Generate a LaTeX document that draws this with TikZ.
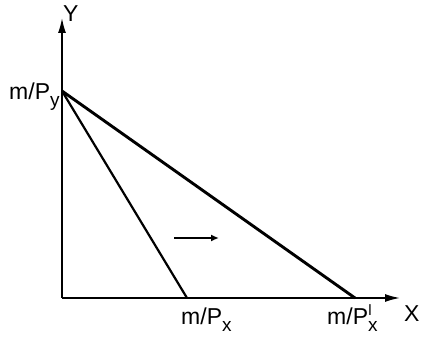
\documentclass[tikz,border=0pt]{standalone}
\usepackage{fontspec}
\setmainfont{Liberation Sans}
\usetikzlibrary{arrows.meta}
\newcommand{\dn}[1]{\raisebox{-0.3em}{\fontsize{19}{19}\selectfont #1}}

\begin{document}
\begin{tikzpicture}[x=1pt, y=1pt,
    lbl/.style={font=\fontsize{23}{23}\selectfont, inner sep=0pt},
    axis/.style={line width=1.6pt, -{Latex[length=15pt, width=8pt]}}]
  \useasboundingbox (0,0) rectangle (426,345);

  % Points
  \coordinate (O) at (62,47);
  \coordinate (ytip) at (62,327);
  \coordinate (xtip) at (400,47);
  \coordinate (A) at (62,254);
  \coordinate (B) at (187,47);
  \coordinate (C) at (355,47);
  \coordinate (s0) at (174,107);
  \coordinate (s1) at (219,107);

  % Axes
  \draw[axis] (O) -- (ytip);
  \draw[axis] (O) -- (xtip);
  \node[lbl, anchor=base west] (ylab) at (63,323) {Y};
  \node[lbl, anchor=base west] (xlab) at (404,23) {X};

  % Budget lines
  \draw[line width=2.2pt] (A) -- (B);
  \draw[line width=2.9pt] (A) -- (C);

  % Shift
  \draw[line width=2.6pt, -{Latex[length=8pt, width=7pt]}] (s0) -- (s1);

  % Intercepts
  \node[lbl, anchor=base west] (py) at (9,245) {m/P\dn{y}};
  \node[lbl, anchor=base west] (px) at (181,20) {m/P\dn{x}};
  \node[lbl, anchor=base west] (pxl) at (327,20) {m/P\dn{x}\raisebox{0.42em}{\fontsize{15}{15}\selectfont\kern-0.62em l}};
\end{tikzpicture}
\end{document}
